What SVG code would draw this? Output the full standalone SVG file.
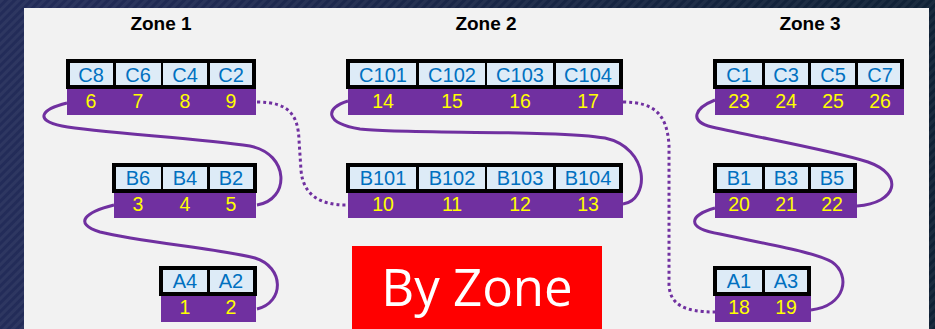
<svg xmlns="http://www.w3.org/2000/svg" width="935" height="329" viewBox="0 0 935 329">
  <defs>
    <linearGradient id="bgGrad" x1="0" y1="0" x2="1" y2="0">
      <stop offset="0" stop-color="#232c59"/>
      <stop offset="1" stop-color="#0f2135"/>
    </linearGradient>
    <pattern id="hatch" width="6" height="6" patternUnits="userSpaceOnUse" patternTransform="rotate(45)">
      <rect width="3" height="6" fill="#ffffff" opacity="0.05"/>
    </pattern>
    <style>
      .title { font-family: "Liberation Sans", Arial, sans-serif; font-weight: bold; font-size: 19px; fill: #000; text-anchor: middle; }
      .frame { fill: #000; }
      .cell { fill: #ddebf7; }
      .band { fill: #7030a0; }
      .lbl { font-family: "Liberation Sans", Arial, sans-serif; font-size: 20px; fill: #0070c0; text-anchor: middle; }
      .num { font-family: "Liberation Sans", Arial, sans-serif; font-size: 19.5px; fill: #ffff00; text-anchor: middle; }
      .link { fill: none; stroke: #7030a0; stroke-width: 3; stroke-linecap: butt; }
      .dotted { stroke-dasharray: 3 3; }
    </style>
  </defs>

  <!-- backdrop and panel -->
  <rect width="935" height="329" fill="url(#bgGrad)"/>
  <rect width="935" height="329" fill="url(#hatch)"/>
  <rect x="24" y="8" width="905" height="330" fill="#f2f2f2"/>

  <!-- zone headings -->
  <text class="title" x="161" y="30">Zone 1</text>
  <text class="title" x="486" y="30">Zone 2</text>
  <text class="title" x="810" y="30">Zone 3</text>

  <!-- connectors -->
  <g id="connectors">
    <path class="link" d="M67,103 C42,109 33,120 62,126 C100,133 200,138 250,146 C290,154 290,200 257,205"/>
    <path class="link" d="M114,205 C86,212 72,223 100,232 C140,242 220,249 255,258 C284,267 285,302 257,309"/>
    <path class="link dotted" d="M257,102 C289,102 298,115 299,140 L301,170 C303,195 320,205 346,205"/>
    <path class="link" d="M348,101 C325,108 324,123 360,129 C400,134 560,130 605,138 C650,148 650,200 623,204"/>
    <path class="link dotted" d="M623,102 C655,102 667,115 669,145 L669,285 C670,305 685,312 715,312"/>
    <path class="link" d="M715,100 C695,108 688,121 712,127 C760,138 830,150 868,162 C905,175 897,203 857,206"/>
    <path class="link" d="M715,208 C690,215 684,228 720,234 C770,245 815,252 832,262 C851,275 846,306 811,310"/>
  </g>

  <!-- Zone 1 -->
  <g id="z1-c">
    <rect class="frame" x="66" y="59" width="190" height="30"/>
    <rect class="cell" x="70" y="63" width="43" height="22"/>
    <rect class="cell" x="116" y="63" width="45" height="22"/>
    <rect class="cell" x="163" y="63" width="44" height="22"/>
    <rect class="cell" x="210" y="63" width="42" height="22"/>
    <rect class="band" x="67" y="89" width="189" height="26"/>
    <text class="lbl" x="91" y="82">C8</text>
    <text class="lbl" x="138" y="82">C6</text>
    <text class="lbl" x="185" y="82">C4</text>
    <text class="lbl" x="231" y="82">C2</text>
    <text class="num" x="91" y="108">6</text>
    <text class="num" x="138" y="108">7</text>
    <text class="num" x="185" y="108">8</text>
    <text class="num" x="231" y="108">9</text>
  </g>
  <g id="z1-b">
    <rect class="frame" x="112" y="163" width="145" height="30"/>
    <rect class="cell" x="116" y="167" width="45" height="22"/>
    <rect class="cell" x="163" y="167" width="44" height="22"/>
    <rect class="cell" x="210" y="167" width="43" height="22"/>
    <rect class="band" x="114" y="193" width="142" height="25"/>
    <text class="lbl" x="138" y="185">B6</text>
    <text class="lbl" x="185" y="185">B4</text>
    <text class="lbl" x="231" y="185">B2</text>
    <text class="num" x="138" y="211">3</text>
    <text class="num" x="185" y="211">4</text>
    <text class="num" x="231" y="211">5</text>
  </g>
  <g id="z1-a">
    <rect class="frame" x="159" y="266" width="98" height="30"/>
    <rect class="cell" x="163" y="270" width="44" height="22"/>
    <rect class="cell" x="210" y="270" width="43" height="22"/>
    <rect class="band" x="161" y="296" width="95" height="26"/>
    <text class="lbl" x="185" y="288">A4</text>
    <text class="lbl" x="231" y="288">A2</text>
    <text class="num" x="185" y="314">1</text>
    <text class="num" x="231" y="314">2</text>
  </g>

  <!-- Zone 2 -->
  <g id="z2-c">
    <rect class="frame" x="346" y="59" width="277" height="30"/>
    <rect class="cell" x="350" y="63" width="66" height="22"/>
    <rect class="cell" x="419" y="63" width="66" height="22"/>
    <rect class="cell" x="487" y="63" width="66" height="22"/>
    <rect class="cell" x="556" y="63" width="63" height="22"/>
    <rect class="band" x="348" y="89" width="275" height="26"/>
    <text class="lbl" x="383" y="82">C101</text>
    <text class="lbl" x="452" y="82">C102</text>
    <text class="lbl" x="520" y="82">C103</text>
    <text class="lbl" x="588" y="82">C104</text>
    <text class="num" x="383" y="108">14</text>
    <text class="num" x="452" y="108">15</text>
    <text class="num" x="520" y="108">16</text>
    <text class="num" x="588" y="108">17</text>
  </g>
  <g id="z2-b">
    <rect class="frame" x="346" y="163" width="277" height="30"/>
    <rect class="cell" x="350" y="167" width="66" height="22"/>
    <rect class="cell" x="419" y="167" width="66" height="22"/>
    <rect class="cell" x="487" y="167" width="66" height="22"/>
    <rect class="cell" x="556" y="167" width="63" height="22"/>
    <rect class="band" x="348" y="193" width="275" height="25"/>
    <text class="lbl" x="383" y="185">B101</text>
    <text class="lbl" x="452" y="185">B102</text>
    <text class="lbl" x="520" y="185">B103</text>
    <text class="lbl" x="588" y="185">B104</text>
    <text class="num" x="383" y="211">10</text>
    <text class="num" x="452" y="211">11</text>
    <text class="num" x="520" y="211">12</text>
    <text class="num" x="588" y="211">13</text>
  </g>

  <!-- Zone 3 -->
  <g id="z3-c">
    <rect class="frame" x="713" y="59" width="191" height="30"/>
    <rect class="cell" x="717" y="63" width="45" height="22"/>
    <rect class="cell" x="765" y="63" width="43" height="22"/>
    <rect class="cell" x="811" y="63" width="44" height="22"/>
    <rect class="cell" x="858" y="63" width="42" height="22"/>
    <rect class="band" x="715" y="89" width="189" height="26"/>
    <text class="lbl" x="739" y="82">C1</text>
    <text class="lbl" x="786" y="82">C3</text>
    <text class="lbl" x="833" y="82">C5</text>
    <text class="lbl" x="880" y="82">C7</text>
    <text class="num" x="739" y="108">23</text>
    <text class="num" x="786" y="108">24</text>
    <text class="num" x="833" y="108">25</text>
    <text class="num" x="880" y="108">26</text>
  </g>
  <g id="z3-b">
    <rect class="frame" x="713" y="163" width="144" height="30"/>
    <rect class="cell" x="717" y="167" width="45" height="22"/>
    <rect class="cell" x="765" y="167" width="43" height="22"/>
    <rect class="cell" x="811" y="167" width="42" height="22"/>
    <rect class="band" x="715" y="193" width="142" height="25"/>
    <text class="lbl" x="739" y="185">B1</text>
    <text class="lbl" x="786" y="185">B3</text>
    <text class="lbl" x="832" y="185">B5</text>
    <text class="num" x="739" y="211">20</text>
    <text class="num" x="786" y="211">21</text>
    <text class="num" x="832" y="211">22</text>
  </g>
  <g id="z3-a">
    <rect class="frame" x="713" y="266" width="98" height="30"/>
    <rect class="cell" x="717" y="270" width="45" height="22"/>
    <rect class="cell" x="765" y="270" width="42" height="22"/>
    <rect class="band" x="715" y="296" width="96" height="26"/>
    <text class="lbl" x="739" y="288">A1</text>
    <text class="lbl" x="786" y="288">A3</text>
    <text class="num" x="739" y="314">18</text>
    <text class="num" x="786" y="314">19</text>
  </g>

  <!-- caption box -->
  <g id="caption">
    <rect x="352" y="246" width="250" height="90" fill="#ff0000"/>
    <text x="477" y="306" font-family="'Open Sans', 'Noto Sans', sans-serif" font-size="51" fill="#ffffff" text-anchor="middle">By Zone</text>
  </g>
</svg>
